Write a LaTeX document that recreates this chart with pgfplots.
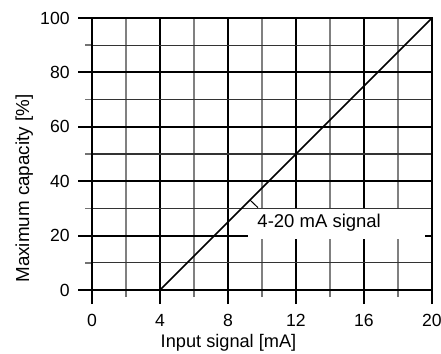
\documentclass[border=0pt]{standalone}
\usepackage{pgfplots}
\pgfplotsset{compat=1.18}
\usepackage{fontspec}
\setmainfont{Liberation Sans}
\begin{document}
\begin{tikzpicture}
\useasboundingbox (-46bp,-32bp) rectangle (174.5bp,145bp);
\begin{axis}[
  at={(0,0)}, anchor=south west,
  scale only axis, width=170bp, height=136bp,
  xmin=0, xmax=20, ymin=0, ymax=100,
  xtick={0,4,...,20}, ytick={0,20,...,100},
  minor xtick={2,6,...,18}, minor ytick={10,30,...,90},
  grid=both,
  major grid style={black, line width=1bp},
  minor x grid style={black!50, line width=0.75bp},
  minor y grid style={black!80, line width=0.6bp},
  axis line style={black, line width=1bp},
  tick align=outside,
  xtick pos=left, ytick pos=left,
  major tick length=7bp, minor tick length=3.5bp,
  every major tick/.append style={black, line width=1bp},
  every minor tick/.append style={black!55, line width=0.75bp},
  /pgf/number format/assume math mode=true,
  tick label style={font=\fontsize{8.8bp}{10bp}\selectfont},
  yticklabel style={anchor=east, inner sep=0pt, xshift=-4bp},
  xticklabel style={anchor=north, inner sep=0pt, yshift=-5bp},
  xlabel={Input signal [mA]},
  ylabel={Maximum capacity [\%]},
  xlabel style={at={(axis description cs:0.4015,-0.2096)}, anchor=base, inner sep=0pt, font=\fontsize{9.1bp}{11bp}\selectfont},
  ylabel style={at={(axis description cs:-0.185,0.373)}, anchor=base, inner sep=0pt, font=\fontsize{9.4bp}{11bp}\selectfont},
  clip=false,
]
\addplot[black, line width=0.8bp] coordinates {(0,0) (4,0) (20,100)};
\fill[white] (axis cs:9.18,18.9) rectangle (axis cs:19.6,29.6);
\draw[black, line width=0.5bp] (axis cs:9.29,33.1) -- (axis cs:9.76,30.3);
\node[anchor=base west, inner sep=0pt, font=\fontsize{9.25bp}{11bp}\selectfont] at (axis cs:9.71,23.05) {4-20 mA signal};
\end{axis}
\end{tikzpicture}
\end{document}
